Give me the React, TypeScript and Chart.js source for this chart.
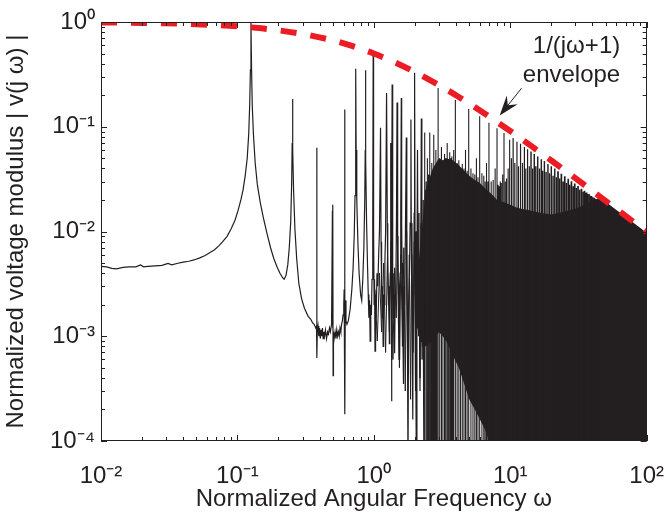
import React, { useEffect, useRef } from 'react';
import { Chart, registerables } from 'chart.js';

Chart.register(...registerables);

const FONT_FAMILY = "'Liberation Sans', Arial, Helvetica, sans-serif";
const INK = '#231f20';
const RED = '#ec1c24';
const FLOOR = 1e-5;
const DENSE_FROM = 10;

// axis ticks
const xTickValues = [0.01, 0.1, 1, 10, 100];
const xTickLabels = ['10⁻²', '10⁻¹', '10⁰', '10¹', '10²'];
const yTickValues = [1e-4, 1e-3, 1e-2, 1e-1, 1];
const yTickLabels = ['10⁻⁴', '10⁻³', '10⁻²', '10⁻¹', '10⁰'];

// red dashed envelope
const envelopeFreq = [0.01, 0.02, 0.03, 0.05, 0.07, 0.1, 0.15, 0.2, 0.3, 0.4, 0.5, 0.7, 1, 1.5, 2, 3, 4, 5, 7, 10, 15, 20, 30, 40, 50, 70, 100];
const envelopeVal = [0.99, 0.98, 0.971, 0.952, 0.935, 0.909, 0.87, 0.833, 0.769, 0.714, 0.667, 0.588, 0.5, 0.4, 0.333, 0.25, 0.2, 0.167, 0.125, 0.091, 0.0625, 0.0476, 0.0323, 0.0244, 0.0196, 0.0141, 0.0099];

// measured spectrum, traced line up to ω ≈ 2.3
const lineFreq = [
  0.0100, 0.0110, 0.0120, 0.0130, 0.0145, 0.0160, 0.0180, 0.0195, 0.0205, 0.0220,
  0.0250, 0.0280, 0.0310, 0.0330, 0.0360, 0.0400, 0.0440, 0.0480, 0.0530, 0.0580,
  0.0630, 0.0680, 0.0730, 0.0780, 0.0840, 0.0900, 0.0960, 0.1010, 0.1060, 0.1100,
  0.1140, 0.1180, 0.1210, 0.1230, 0.1245, 0.1257, 0.1270, 0.1285, 0.1310, 0.1350,
  0.1400, 0.1470, 0.1550, 0.1650, 0.1750, 0.1850, 0.1950, 0.2050, 0.2150, 0.2200,
  0.2270, 0.2340, 0.2400, 0.2460, 0.2500, 0.2520, 0.2535, 0.2550, 0.2580, 0.2640,
  0.2720, 0.2820, 0.2950, 0.3100, 0.3300, 0.3450, 0.3550, 0.3650, 0.3750, 0.3800,
  0.3815, 0.3830, 0.3850, 0.3900, 0.3950, 0.4000, 0.4050, 0.4100, 0.4150, 0.4200,
  0.4250, 0.4300, 0.4350, 0.4420, 0.4500, 0.4580, 0.4650, 0.4730, 0.4800, 0.4900,
  0.4970, 0.4990, 0.5010, 0.5030, 0.5060, 0.5120, 0.5200, 0.5280, 0.5350, 0.5420,
  0.5500, 0.5580, 0.5650, 0.5730, 0.5800, 0.5880, 0.5950, 0.6020, 0.6060, 0.6110,
  0.6140, 0.6180, 0.6250, 0.6350, 0.6500, 0.6700, 0.6900, 0.7050, 0.7180, 0.7280,
  0.7350, 0.7380, 0.7420, 0.7500, 0.7650, 0.7800, 0.8000, 0.8150, 0.8300, 0.8450,
  0.8580, 0.8650, 0.8690, 0.8730, 0.8850,
  0.9000, 0.9100, 0.9200, 0.9300, 0.9400, 0.9500, 0.9600, 0.9700, 0.9820, 0.9890,
  0.9960, 1.0050, 1.0120, 1.0200, 1.0300, 1.0400, 1.0550, 1.0700, 1.0850, 1.1000,
  1.1200, 1.1300, 1.1400, 1.1500, 1.1600, 1.1700, 1.1800, 1.1900, 1.2050, 1.2200,
  1.2400, 1.2550, 1.2650, 1.2800, 1.2900, 1.3000, 1.3100, 1.3200, 1.3300, 1.3450,
  1.3500, 1.3550, 1.3620, 1.3700, 1.3800, 1.3900, 1.4050, 1.4200, 1.4350, 1.4500,
  1.4650, 1.4800, 1.4900, 1.5000, 1.5150, 1.5300, 1.5450, 1.5600, 1.5750, 1.5900,
  1.6000, 1.6100, 1.6300, 1.6500, 1.6650, 1.6800, 1.7050, 1.7300, 1.7400, 1.7500,
  1.7650, 1.7800, 1.8000, 1.8200, 1.8450, 1.8700, 1.8850, 1.9000, 1.9150, 1.9300,
  1.9450, 1.9600, 1.9750, 1.9900, 2.0050, 2.0200, 2.0350, 2.0500, 2.0700, 2.0900,
  2.1100, 2.1300, 2.1550, 2.1800, 2.2050, 2.2300, 2.2500, 2.2700, 2.3000, 2.3300,
];
const lineVal = [
  4.65e-3, 4.6e-3, 4.45e-3, 4.4e-3, 4.55e-3, 4.6e-3, 4.6e-3, 4.8e-3, 4.6e-3, 4.65e-3,
  4.7e-3, 4.75e-3, 4.95e-3, 4.8e-3, 4.95e-3, 5.1e-3, 5.2e-3, 5.35e-3, 5.6e-3, 5.9e-3,
  6.3e-3, 6.7e-3, 7.3e-3, 8.0e-3, 9.0e-3, 0.0106, 0.0128, 0.0158, 0.020, 0.025,
  0.034, 0.050, 0.085, 0.16, 0.35, 0.98, 0.35, 0.16, 0.085, 0.045,
  0.028, 0.019, 0.0135, 0.0095, 7.0e-3, 5.5e-3, 4.6e-3, 4.0e-3, 3.6e-3, 3.5e-3,
  3.8e-3, 4.8e-3, 7.0e-3, 0.0125, 0.03, 0.07, 0.184, 0.06, 0.025, 0.0105,
  5.5e-3, 3.2e-3, 2.3e-3, 1.85e-3, 1.55e-3, 1.45e-3, 1.35e-3, 1.3e-3, 1.2e-3, 1.25e-3,
  0.063, 6.2e-4, 1.1e-3, 1.25e-3, 1.0e-3, 1.2e-3, 0.95e-3, 1.15e-3, 1.0e-3, 1.2e-3,
  0.95e-3, 1.1e-3, 1.0e-3, 1.15e-3, 0.95e-3, 1.1e-3, 1.05e-3, 1.2e-3, 1.1e-3, 1.3e-3,
  0.0158, 1.2e-3, 0.018, 4.2e-4, 1.1e-3, 0.95e-3, 1.1e-3, 0.95e-3, 1.15e-3, 1.0e-3,
  1.1e-3, 1.0e-3, 1.2e-3, 1.1e-3, 1.3e-3, 1.4e-3, 1.6e-3, 2.0e-3, 2.8e-3, 0.146,
  1.8e-4, 2.2e-3, 1.4e-3, 1.3e-3, 1.4e-3, 1.8e-3, 2.8e-3, 4.5e-3, 9e-3, 0.022,
  0.07, 0.357, 0.06, 0.02, 7.5e-3, 4.0e-3, 2.5e-3, 2.2e-3, 3.5e-3, 7.0e-3,
  0.02, 0.06, 0.347, 0.05, 0.012,
  4.5e-3, 2.5e-3, 1.5e-3, 2.2e-3, 9e-4, 2.0e-3, 1.6e-3, 3.5e-3, 0.012, 0.51,
  0.01, 2.0e-3, 3.5e-3, 7.2e-4, 2.5e-3, 1.5e-3, 4e-3, 3.0e-3, 6e-3, 0.01,
  0.098, 8e-3, 3e-3, 1.5e-3, 3e-3, 8e-4, 2.5e-3, 2.0e-3, 5e-3, 0.01,
  0.21, 0.012, 4e-3, 2.0e-3, 3e-3, 8.5e-4, 2e-3, 4e-3, 0.07, 0.01,
  2.4e-4, 0.015, 0.253, 0.01, 3e-3, 1.5e-3, 4e-3, 6.9e-4, 2.5e-3, 3e-3,
  0.012, 0.17, 0.01, 5e-3, 1.5e-3, 6e-4, 3e-3, 4e-3, 0.015, 0.188,
  0.012, 5e-3, 1.2e-3, 3.5e-4, 3e-3, 2.0e-3, 0.01, 0.079, 6e-3, 2.5e-3,
  8e-4, 5e-5, 2e-3, 3e-3, 0.012, 0.117, 6e-3, 2e-3, 8e-4, 1.6e-4,
  2.5e-3, 3e-3, 0.015, 0.327, 0.01, 2e-3, 8e-4, 5e-5, 4e-3, 0.06,
  4e-3, 1e-3, 2e-3, 3e-4, 5e-3, 0.12, 4e-3, 8e-4, 2e-3, 5e-5,
];

// second trace of the noisy tangle between ω ≈ 1 and 2.4
const noiseFreq = [
  1.02, 1.06, 1.10, 1.14, 1.18, 1.22, 1.26, 1.30, 1.34, 1.38,
  1.42, 1.46, 1.50, 1.54, 1.58, 1.62, 1.66, 1.70, 1.74, 1.78,
  1.82, 1.86, 1.90, 1.94, 1.98, 2.02, 2.06, 2.10, 2.14, 2.18,
  2.22, 2.26, 2.30, 2.34, 2.38,
];
const noiseVal = [
  2.8e-3, 9e-4, 4e-3, 1.1e-3, 5e-3, 7e-4, 6e-3, 1.1e-3, 8e-3, 6e-4,
  4.5e-3, 1.5e-3, 9e-3, 5e-4, 6e-3, 8e-4, 7e-3, 3e-4, 0.01, 6e-4,
  6e-3, 2.5e-4, 0.012, 7e-4, 8e-3, 3e-4, 0.01, 1.2e-3, 0.015, 4e-4,
  0.012, 6e-4, 0.02, 3e-4, 0.025,
];

// resonance spikes above ω ≈ 2.3 (frequency, peak value)
const spikeFreq = [
  2.36, 2.42, 2.47, 2.52, 2.57, 2.62, 2.66, 2.71, 2.75, 2.80,
  2.85, 2.90, 2.96, 3.04, 3.13, 3.21, 3.30, 3.37, 3.45, 3.52,
  3.60, 3.66, 3.73, 3.79, 3.85, 3.96, 4.08, 4.20, 4.32, 4.45,
  4.58, 4.70, 4.83, 4.96, 5.15, 5.33, 5.50, 5.65, 5.80, 5.97,
  6.20, 6.40, 6.55, 6.70, 6.85, 6.98, 7.25, 7.50, 7.75, 8.00,
  8.15, 8.30, 8.45, 8.60, 8.80, 9.00, 9.20, 9.40, 9.65, 9.90,
  10.2, 10.5, 10.8, 11.2, 11.5, 11.9, 12.3, 12.7, 13.0, 13.4,
  13.8, 14.2, 14.6, 15.0, 15.4, 15.9, 16.4, 16.9, 17.3, 17.8,
  18.3, 18.9, 19.4, 20.0, 20.6, 21.2, 21.8, 22.4, 23.0, 23.7,
  24.4, 25.1, 25.8, 26.6, 27.3, 28.1, 28.9, 29.7, 30.5, 31.4,
  32.3, 33.3, 34.2, 35.0, 35.6, 36.3, 37.0, 37.8, 38.6, 39.4,
  40.3, 41.2, 42.1, 43.1, 44.0,
];
const spikePeak = [
  0.088, 0.03, 0.05, 0.035, 0.088, 0.03, 0.045, 0.035, 0.084, 0.04,
  0.06, 0.045, 0.235, 0.05, 0.064, 0.045, 0.055, 0.05, 0.07, 0.045,
  0.057, 0.05, 0.052, 0.045, 0.06, 0.18, 0.045, 0.048, 0.04, 0.044,
  0.04, 0.06, 0.038, 0.148, 0.04, 0.036, 0.035, 0.05, 0.033, 0.126,
  0.036, 0.034, 0.03, 0.045, 0.03, 0.109, 0.03, 0.031, 0.04, 0.097,
  0.028, 0.027, 0.03, 0.029, 0.035, 0.087, 0.03, 0.032, 0.04, 0.075,
  0.05, 0.078, 0.045, 0.072, 0.042, 0.069, 0.045, 0.064, 0.04, 0.061,
  0.042, 0.058, 0.04, 0.055, 0.042, 0.052, 0.04, 0.049, 0.038, 0.047,
  0.037, 0.044, 0.036, 0.042, 0.034, 0.040, 0.033, 0.0376, 0.032, 0.0356,
  0.030, 0.0337, 0.029, 0.0319, 0.028, 0.0302, 0.027, 0.0287, 0.026, 0.0272,
  0.025, 0.0256, 0.024, 0.0245, 0.0235, 0.0236, 0.0228, 0.0228, 0.022, 0.0218,
  0.0212, 0.021, 0.0205, 0.020, 0.0205,
];

// dense black band (upper and lower edge)
const massFreq = [
  2.0, 2.2, 2.4, 2.7, 3.0, 3.2, 3.4, 3.8, 4.2, 4.6,
  5.0, 5.5, 6.0, 6.5, 7.0, 7.5, 8.0, 9.0, 10, 11,
  12, 13.5, 15, 17, 20, 22.5, 25, 30, 35, 40,
  45, 50, 60, 70, 80, 90, 100,
];
const massTop = [
  0.002, 0.008, 0.025, 0.04, 0.05, 0.048, 0.05, 0.048, 0.043, 0.038,
  0.034, 0.031, 0.029, 0.026, 0.024, 0.022, 0.02, 0.019, 0.018, 0.017,
  0.0165, 0.016, 0.0155, 0.015, 0.0145, 0.015, 0.0155, 0.0165, 0.018, 0.0198,
  0.0208, 0.0192, 0.016, 0.0138, 0.0121, 0.0108, 0.0097,
];
const massLow = [
  1.5e-3, 9e-4, 8e-4, 9e-4, 1.1e-3, 1.0e-3, 9e-4, 6.5e-4, 5e-4, 3.5e-4,
  2.5e-4, 2e-4, 1.6e-4, 1.3e-4, 1e-4, 1e-5, 1e-5, 1e-5, 1e-5, 1e-5,
  1e-5, 1e-5, 1e-5, 1e-5, 1e-5, 1e-5, 1e-5, 1e-5, 1e-5, 1e-5,
  1e-5, 1e-5, 1e-5, 1e-5, 1e-5, 1e-5, 1e-5,
];

// annotation (data coordinates)
const noteLines = ['1/(jω+1)', 'envelope'];
const noteRightFreq = 64;
const noteBaselineVal = [0.506, 0.27];
const arrowTail = { x: 12.1, y: 0.233 };
const arrowTip = { x: 8.37, y: 0.128 };

const font24 = { family: FONT_FAMILY, size: 24 };

const framePlugin = {
  id: 'matlabFrame',
  afterDatasetsDraw(chart: any) {
    const { ctx, chartArea, scales } = chart;
    const { left, right, top, bottom } = chartArea;
    const xs = scales.x;
    const ys = scales.y;
    ctx.save();
    ctx.strokeStyle = INK;
    ctx.lineWidth = 1;
    ctx.beginPath();
    for (let d = 0; d < xTickValues.length; d++) {
      for (let m = 1; m <= 9; m++) {
        if (m > 1 && d === xTickValues.length - 1) break;
        const px = Math.round(xs.getPixelForValue(xTickValues[d] * m)) + 0.5;
        const len = m === 1 ? 6 : 4;
        ctx.moveTo(px, bottom);
        ctx.lineTo(px, bottom - len);
        ctx.moveTo(px, top);
        ctx.lineTo(px, top + len);
      }
    }
    for (let d = 0; d < yTickValues.length; d++) {
      for (let m = 1; m <= 9; m++) {
        if (m > 1 && d === yTickValues.length - 1) break;
        const py = Math.round(ys.getPixelForValue(yTickValues[d] * m)) + 0.5;
        const len = m === 1 ? 6 : 4;
        ctx.moveTo(left, py);
        ctx.lineTo(left + len, py);
        ctx.moveTo(right, py);
        ctx.lineTo(right - len, py);
      }
    }
    ctx.stroke();
    ctx.strokeRect(Math.round(left) + 0.5, Math.round(top) + 0.5, Math.round(right - left) - 1, Math.round(bottom - top) - 1);
    ctx.restore();
  },
  afterDraw(chart: any) {
    const { ctx, scales } = chart;
    const xs = scales.x;
    const ys = scales.y;
    ctx.save();
    ctx.fillStyle = INK;
    ctx.font = `24px ${FONT_FAMILY}`;
    ctx.textAlign = 'right';
    ctx.textBaseline = 'alphabetic';
    const rx = xs.getPixelForValue(noteRightFreq);
    noteLines.forEach((t, i) => ctx.fillText(t, rx, ys.getPixelForValue(noteBaselineVal[i])));
    const tx = xs.getPixelForValue(arrowTail.x);
    const ty = ys.getPixelForValue(arrowTail.y);
    const hx = xs.getPixelForValue(arrowTip.x);
    const hy = ys.getPixelForValue(arrowTip.y);
    const L = Math.hypot(tx - hx, ty - hy);
    const ux = (tx - hx) / L;
    const uy = (ty - hy) / L;
    const nx = -uy;
    const ny = ux;
    const headLen = 20;
    const halfW = 7;
    const notch = 13;
    ctx.strokeStyle = INK;
    ctx.lineWidth = 1;
    ctx.beginPath();
    ctx.moveTo(tx, ty);
    ctx.lineTo(hx + ux * notch, hy + uy * notch);
    ctx.stroke();
    ctx.beginPath();
    ctx.moveTo(hx, hy);
    ctx.lineTo(hx + ux * headLen + nx * halfW, hy + uy * headLen + ny * halfW);
    ctx.lineTo(hx + ux * notch, hy + uy * notch);
    ctx.lineTo(hx + ux * headLen - nx * halfW, hy + uy * headLen - ny * halfW);
    ctx.closePath();
    ctx.fill();
    ctx.restore();
  },
};

export default function App() {
  const canvasRef = useRef<HTMLCanvasElement | null>(null);

  useEffect(() => {
    const canvas = canvasRef.current;
    if (!canvas) return;

    const envelopeData = envelopeFreq.map((f, i) => ({ x: f, y: envelopeVal[i] }));
    const lineData = lineFreq.map((f, i) => ({ x: f, y: lineVal[i] }));
    const noiseData = noiseFreq.map((f, i) => ({ x: f, y: noiseVal[i] }));
    const spikeSegments = (keep: (f: number) => boolean) =>
      spikeFreq.flatMap((f, i) =>
        keep(f) ? [{ x: f, y: FLOOR }, { x: f, y: spikePeak[i] }, { x: f, y: null }] : []
      );
    const sparseSpikes = spikeSegments((f) => f < DENSE_FROM);
    const denseSpikes = spikeSegments((f) => f >= DENSE_FROM);
    const massTopData = massFreq.map((f, i) => ({ x: f, y: massTop[i] }));
    const massLowData = massFreq.map((f, i) => ({ x: f, y: massLow[i] }));

    const chart = new Chart(canvas, {
      type: 'line',
      data: {
        datasets: [
          {
            label: 'envelope',
            data: envelopeData,
            borderColor: RED,
            borderWidth: 6,
            borderDash: [16, 14],
            borderCapStyle: 'butt',
            cubicInterpolationMode: 'monotone',
            pointRadius: 0,
            fill: false,
          },
          {
            label: 'spectrum',
            data: lineData,
            borderColor: INK,
            borderWidth: 1.2,
            pointRadius: 0,
            fill: false,
          },
          {
            label: 'spectrum noise',
            data: noiseData,
            borderColor: INK,
            borderWidth: 1,
            pointRadius: 0,
            fill: false,
          },
          {
            label: 'spikes',
            data: sparseSpikes as any,
            borderColor: INK,
            borderWidth: 1.1,
            pointRadius: 0,
            spanGaps: false,
            fill: false,
          },
          {
            label: 'dense spikes',
            data: denseSpikes as any,
            borderColor: INK,
            borderWidth: 1.2,
            segment: {
              borderWidth: (c: any) => {
                const f = c.p0.parsed.x;
                return f < 14 ? 1.2 : f < 22 ? 1.45 : 1.7;
              },
            },
            pointRadius: 0,
            spanGaps: false,
            fill: false,
          },
          {
            label: 'band top',
            data: massTopData,
            borderColor: INK,
            borderWidth: 0,
            backgroundColor: INK,
            pointRadius: 0,
            fill: '+1',
          },
          {
            label: 'band low',
            data: massLowData,
            borderColor: INK,
            borderWidth: 0,
            pointRadius: 0,
            fill: false,
          },
        ],
      },
      options: {
        responsive: false,
        animation: false,
        devicePixelRatio: 1,
        events: [],
        layout: { padding: { left: 0, right: 17, top: 22, bottom: 0 } },
        plugins: {
          legend: { display: false },
          tooltip: { enabled: false },
        },
        scales: {
          x: {
            type: 'logarithmic',
            min: 0.01,
            max: 100,
            afterBuildTicks: (s: any) => {
              s.ticks = xTickValues.map((v) => ({ value: v }));
            },
            afterFit: (s: any) => {
              s.height = 74;
            },
            grid: { display: false, drawTicks: true, tickLength: 21 },
            border: { display: false },
            ticks: {
              callback: (_v: any, i: number) => xTickLabels[i],
              font: font24,
              color: INK,
              padding: 0,
              maxRotation: 0,
              autoSkip: false,
            },
            title: {
              display: true,
              text: 'Normalized Angular Frequency ω',
              font: font24,
              color: INK,
              padding: { top: 0, bottom: 1 },
            },
          },
          y: {
            type: 'logarithmic',
            min: 1e-4,
            max: 1,
            afterBuildTicks: (s: any) => {
              s.ticks = yTickValues.map((v) => ({ value: v }));
            },
            afterFit: (s: any) => {
              s.width = 101;
            },
            grid: { display: false, drawTicks: false },
            border: { display: false },
            ticks: {
              callback: (_v: any, i: number) => yTickLabels[i],
              font: font24,
              color: INK,
              padding: 6,
              autoSkip: false,
            },
            title: {
              display: true,
              text: 'Normalized voltage modulus | v(j ω) |',
              font: font24,
              color: INK,
              padding: { top: 2, bottom: 0 },
            },
          },
        },
      },
      plugins: [framePlugin],
    });

    return () => chart.destroy();
  }, []);

  return (
    <div style={{ position: 'absolute', left: 0, top: 0, width: 664, height: 515, background: '#fff' }}>
      <canvas ref={canvasRef} width={664} height={515} style={{ display: 'block' }} />
    </div>
  );
}
